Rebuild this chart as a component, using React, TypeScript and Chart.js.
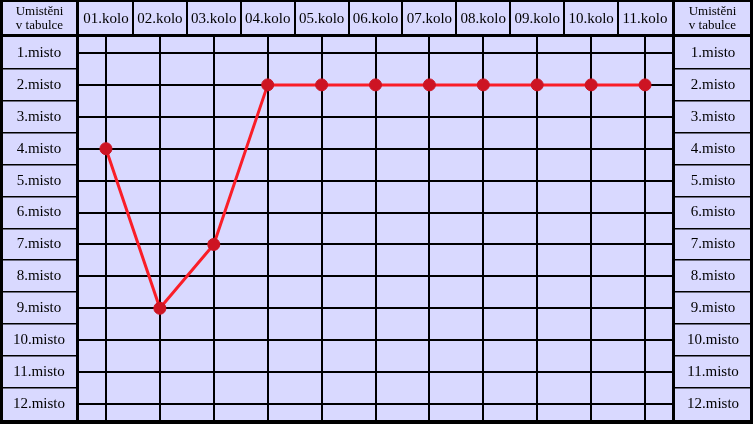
import React, { useEffect, useRef } from 'react';
import { Chart, registerables } from 'chart.js';

Chart.register(...registerables);

// ---- data ----
const rounds = ['01.kolo', '02.kolo', '03.kolo', '04.kolo', '05.kolo', '06.kolo', '07.kolo', '08.kolo', '09.kolo', '10.kolo', '11.kolo', '12.kolo'];
const lastShownRound = '11.kolo';
const positions = [4, 9, 7, 2, 2, 2, 2, 2, 2, 2, 2, 2];
const placeTicks = [1, 2, 3, 4, 5, 6, 7, 8, 9, 10, 11, 12];
const placeSuffix = '.misto';
const cornerTitle = ['Umistěni', 'v tabulce'];

// ---- styles ----
const CELL = 'rgb(217,217,255)';
const INK = '#000000';
const LINE_RED = 'rgb(250,30,40)';
const POINT_RED = 'rgb(205,20,35)';
const FONT = '"Liberation Serif", "Times New Roman", serif';

const tablePlugin = {
  id: 'tableFrame',
  beforeDraw(chart: any) {
    const ctx = chart.ctx;
    const { left, right, top, bottom } = chart.chartArea;
    const W = chart.width;
    const H = chart.height;
    const x = chart.scales.x;
    const y = chart.scales.y;
    ctx.save();
    ctx.fillStyle = INK;
    ctx.fillRect(0, 0, W, H);
    ctx.fillStyle = CELL;
    const hTop = 2;
    const hBottom = top - 3;
    // left column
    ctx.fillRect(3, hTop, left - 6, hBottom - hTop);
    ctx.fillRect(3, top, left - 6, bottom - top);
    // header row
    ctx.fillRect(left, hTop, right - left, hBottom - hTop);
    // plot
    ctx.fillRect(left, top, right - left, bottom - top);
    // right column
    const rx = right + 3;
    const rw = W - 3 - rx;
    ctx.fillRect(rx, hTop, rw, hBottom - hTop);
    ctx.fillRect(rx, top, rw, bottom - top);
    // separators
    ctx.fillStyle = INK;
    const n = placeTicks.length;
    const shown = rounds.indexOf(lastShownRound) + 1;
    for (let i = 0; i < shown - 1; i++) {
      const xb = (x.getPixelForValue(i) + x.getPixelForValue(i + 1)) / 2;
      ctx.fillRect(Math.round(xb) - 1, hTop, 2, hBottom - hTop);
    }
    for (let k = 0; k < n - 1; k++) {
      const yb = y.getPixelForValue(placeTicks[k] + 0.5);
      ctx.fillRect(3, Math.round(yb) - 1, left - 6, 1.5);
      ctx.fillRect(rx, Math.round(yb) - 1, rw, 1.5);
    }
    ctx.restore();
  },
  afterDraw(chart: any) {
    const ctx = chart.ctx;
    const { left, right } = chart.chartArea;
    const W = chart.width;
    ctx.save();
    ctx.fillStyle = INK;
    ctx.font = `13px ${FONT}`;
    ctx.textAlign = 'center';
    ctx.textBaseline = 'middle';
    const cx1 = (3 + left - 3) / 2;
    const cx2 = (right + 3 + W - 3) / 2;
    [cx1, cx2].forEach((cx) => {
      ctx.fillText(cornerTitle[0], cx, 12);
      ctx.fillText(cornerTitle[1], cx, 26);
    });
    ctx.restore();
  },
};

const placeLabel = (v: any) => `${v}${placeSuffix}`;
const setPlaceTicks = (scale: any) => {
  scale.ticks = placeTicks.map((v) => ({ value: v }));
};
const fitVertical = (w: number) => (s: any) => {
  s.width = w;
  s.paddingTop = 0;
  s.paddingBottom = 0;
};

export default function App() {
  const ref = useRef<HTMLCanvasElement | null>(null);
  useEffect(() => {
    if (!ref.current) return;
    const chart = new Chart(ref.current, {
      type: 'line',
      data: {
        labels: rounds,
        datasets: [
          {
            data: positions,
            borderColor: LINE_RED,
            borderWidth: 3,
            backgroundColor: POINT_RED,
            pointBackgroundColor: POINT_RED,
            pointBorderColor: POINT_RED,
            pointBorderWidth: 1,
            pointRadius: 6,
            tension: 0,
            clip: 0,
            yAxisID: 'y',
          },
        ],
      },
      options: {
        responsive: false,
        animation: false,
        devicePixelRatio: 1,
        layout: { autoPadding: false, padding: { left: 0, top: 0, right: 0, bottom: 4 } },
        plugins: {
          legend: { display: false },
          tooltip: { enabled: false },
          title: { display: false },
        },
        scales: {
          x: {
            type: 'category',
            position: 'top',
            offset: true,
            max: lastShownRound,
            afterFit: (s: any) => { s.height = 37; s.paddingLeft = 0; s.paddingRight = 0; },
            grid: { color: INK, lineWidth: 2, drawTicks: false, offset: false },
            border: { display: false },
            ticks: {
              color: INK,
              font: { family: FONT, size: 15 },
              padding: 9,
              autoSkip: false,
              maxRotation: 0,
              minRotation: 0,
            },
          },
          y: {
            type: 'linear',
            position: 'left',
            min: 0.5,
            max: 12.5,
            reverse: true,
            afterBuildTicks: setPlaceTicks,
            afterFit: fitVertical(79),
            grid: { color: INK, lineWidth: 2, drawTicks: false },
            border: { display: false },
            ticks: {
              color: INK,
              font: { family: FONT, size: 15 },
              crossAlign: 'center',
              padding: 14,
              callback: placeLabel,
            },
          },
          y2: {
            type: 'linear',
            position: 'right',
            min: 0.5,
            max: 12.5,
            reverse: true,
            afterBuildTicks: setPlaceTicks,
            afterFit: fitVertical(81),
            grid: { display: false, drawTicks: false },
            border: { display: false },
            ticks: {
              color: INK,
              font: { family: FONT, size: 15 },
              crossAlign: 'center',
              padding: 15,
              callback: placeLabel,
            },
          },
        },
      },
      plugins: [tablePlugin],
    } as any);
    return () => chart.destroy();
  }, []);
  return (
    <div style={{ position: 'absolute', left: 0, top: 0, width: 753, height: 424 }}>
      <canvas ref={ref} width={753} height={424} style={{ display: 'block' }} />
    </div>
  );
}
